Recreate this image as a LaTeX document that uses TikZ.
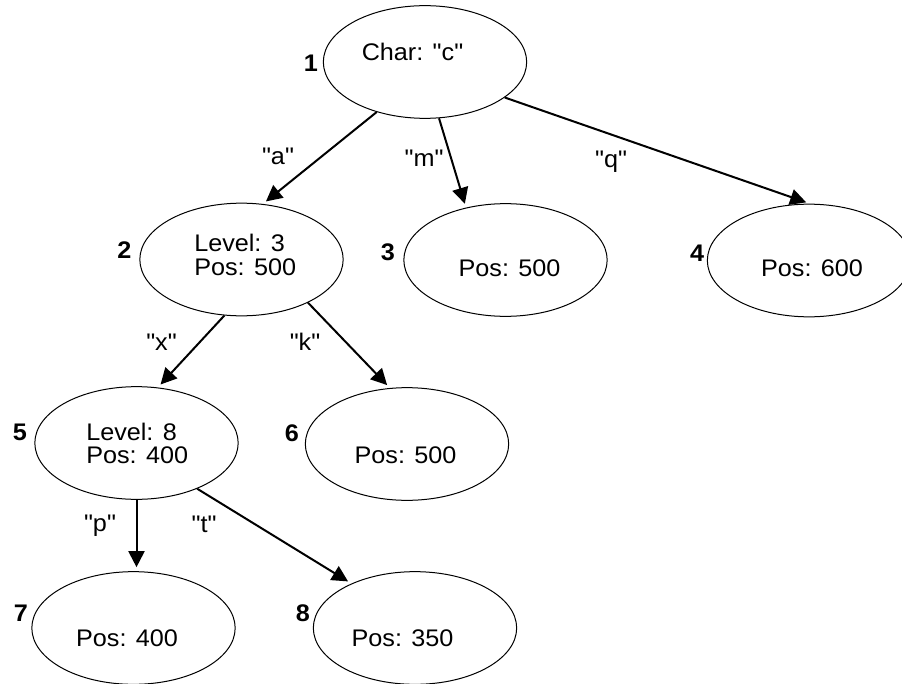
\documentclass[tikz,border=0pt]{standalone}
\usepackage{fontspec}
\setmainfont{Liberation Sans}[Ligatures=TeXOff,FakeStretch=1.05]
\usetikzlibrary{shapes.geometric,arrows.meta}
\begin{document}
\begin{tikzpicture}[x=0.75pt,y=-0.75pt,
  bub/.style={ellipse,draw,line width=0.75pt,minimum width=152.5pt,minimum height=84.5pt,inner sep=0pt},
  txt/.style={font=\fontsize{18}{17.25}\selectfont,inner sep=0pt,anchor=base},
  txtl/.style={font=\fontsize{18}{17.25}\selectfont,inner sep=0pt,anchor=base west},
  num/.style={font=\fontsize{18}{17.25}\selectfont\bfseries,inner sep=0pt},
  elab/.style={font=\fontsize{18}{17.25}\selectfont,inner sep=0pt,anchor=base},
  edge/.style={line width=1.5pt,-{Triangle[length=12pt,width=12pt]},shorten >=3pt}]

\useasboundingbox (0,0) rectangle (902,684);

% ellipses
\node[bub] (n1) at (425,62) {};
\node[bub] (n2) at (241.5,259.5) {};
\node[bub] (n3) at (505.5,260) {};
\node[bub] (n4) at (809,260.5) {};
\node[bub] (n5) at (136.5,443) {};
\node[bub] (n6) at (407,444) {};
\node[bub] (n7) at (133.5,628) {};
\node[bub] (n8) at (415,628) {};

% texts
\node[txt] (t1) at (412.5,61) {Char: "c"};
\node[txtl] (t2a) at (194,252) {Level: 3};
\node[txtl] (t2b) at (194,275) {Pos: 500};
\node[txt] (t3) at (509.5,276) {Pos: 500};
\node[txt] (t4) at (812,276) {Pos: 600};
\node[txtl] (t5a) at (86,440) {Level: 8};
\node[txtl] (t5b) at (86,463) {Pos: 400};
\node[txt] (t6) at (405.5,463) {Pos: 500};
\node[txt] (t7) at (127,646) {Pos: 400};
\node[txt] (t8) at (402.5,646) {Pos: 350};

% numbers
\node[num] (k1) at (311,63.5) {1};
\node[num] (k2) at (124.5,250.5) {2};
\node[num] (k3) at (388,252) {3};
\node[num] (k4) at (697,253.5) {4};
\node[num] (k5) at (20,432) {5};
\node[num] (k6) at (292,433) {6};
\node[num] (k7) at (21,613) {7};
\node[num] (k8) at (303,613) {8};

% edges
\draw[edge] (n1.226) -- (n2.69);
\draw[edge] (n1.284) -- (n3.127);
\draw[edge] (n1.336) -- (n4.89);
\draw[edge] (n2.253) -- (n5.69);
\draw[edge] (n2.327) -- (n6.107);
\draw[edge] (n5.south) -- (n5.south |- n7.north);
\draw[edge] (n5.323) -- (n8.145);

% edge labels
\node[elab] (ea) at (278,165) {"a"};
\node[elab] (em) at (424,167) {"m"};
\node[elab] (eq) at (611,168) {"q"};
\node[elab] (ex) at (161.5,350) {"x"};
\node[elab] (ek) at (305,350) {"k"};
\node[elab] (ep) at (100,531.5) {"p"};
\node[elab] (et) at (204,532.5) {"t"};
\end{tikzpicture}
\end{document}
